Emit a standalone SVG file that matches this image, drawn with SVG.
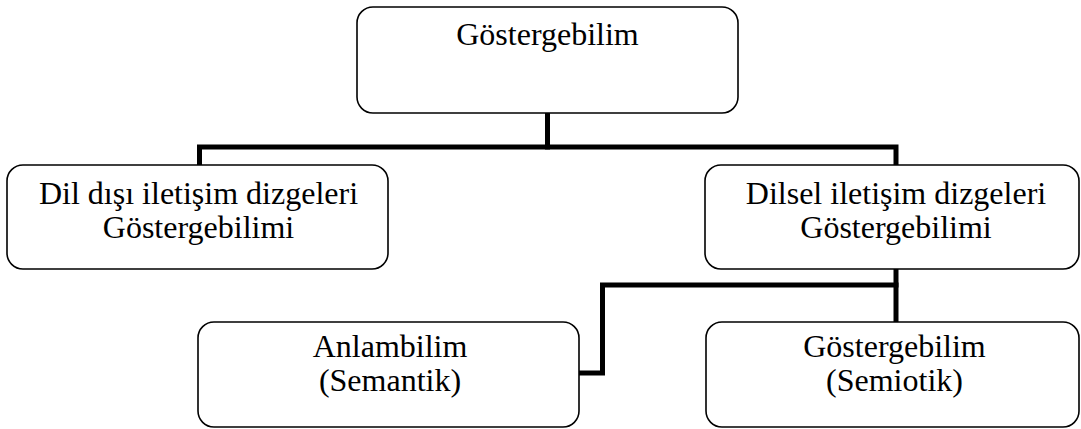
<svg xmlns="http://www.w3.org/2000/svg" width="1081" height="429" viewBox="0 0 1081 429">
<style>
.box{fill:#fff;stroke:#000;stroke-width:1.6}
.t{font-family:"Liberation Serif","Times New Roman",serif;font-size:32px;fill:#000;text-anchor:middle}
.c{fill:none;stroke:#000;stroke-width:5;stroke-linejoin:miter;stroke-linecap:square}
</style>
<rect width="1081" height="429" fill="#fff"/>
<g id="connectors">
<path class="c" d="M547.5,114 V147"/>
<path class="c" d="M199.5,164 V147 H896 V164"/>
<path class="c" d="M896,270 V321"/>
<path class="c" d="M896,285 H602.5 V373 H580"/>
</g>
<g id="n-root">
<rect class="box" x="357" y="7" width="381" height="106" rx="16"/>
<text class="t" x="547.5" y="45">Göstergebilim</text>
</g>
<g id="n-dildisi">
<rect class="box" x="7" y="165" width="381" height="104" rx="16"/>
<text class="t" x="198.5" y="204">Dil dışı iletişim dizgeleri</text>
<text class="t" x="198.5" y="238">Göstergebilimi</text>
</g>
<g id="n-dilsel">
<rect class="box" x="705" y="165" width="374" height="104" rx="16"/>
<text class="t" x="896" y="204">Dilsel iletişim dizgeleri</text>
<text class="t" x="896" y="238">Göstergebilimi</text>
</g>
<g id="n-anlambilim">
<rect class="box" x="198" y="322" width="381" height="105" rx="16"/>
<text class="t" x="390" y="357">Anlambilim</text>
<text class="t" x="390" y="391">(Semantik)</text>
</g>
<g id="n-semiotik">
<rect class="box" x="706" y="322" width="373" height="105" rx="16"/>
<text class="t" x="894.5" y="357">Göstergebilim</text>
<text class="t" x="894.5" y="391">(Semiotik)</text>
</g>
</svg>
